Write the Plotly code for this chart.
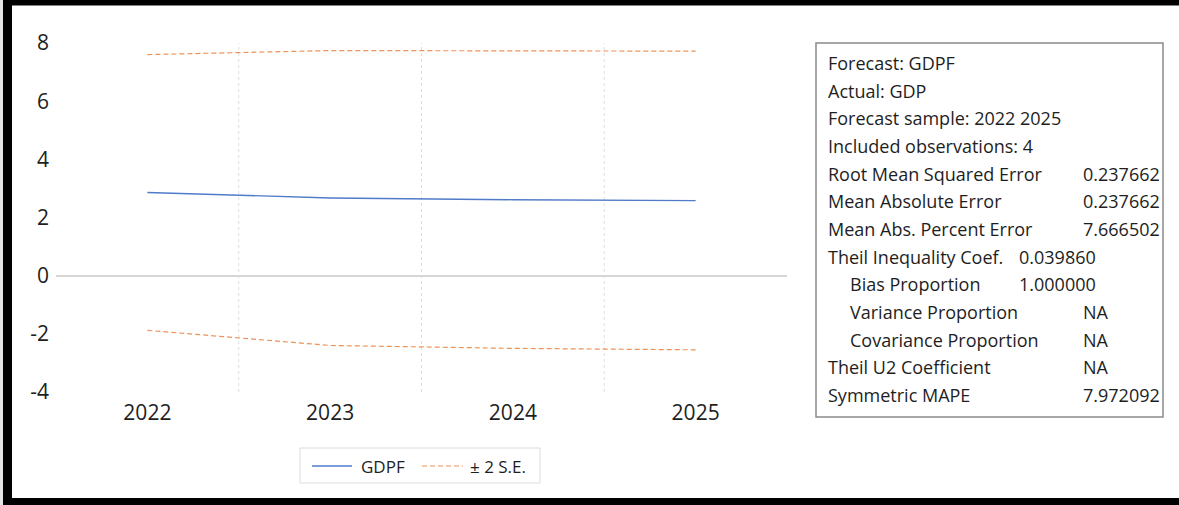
import plotly.graph_objects as go

# Forecast of GDP with a +/- 2 standard-error band
years = ["2022", "2023", "2024", "2025"]
gdpf = [2.86, 2.67, 2.61, 2.58]
upper_2se = [7.60, 7.74, 7.73, 7.72]
lower_2se = [-1.88, -2.40, -2.50, -2.55]
y_ticks = [-4, -2, 0, 2, 4, 6, 8]
series_names = ["GDPF", "± 2 S.E."]

# Forecast evaluation statistics
stat_labels = [
    "Forecast: GDPF",
    "Actual: GDP",
    "Forecast sample: 2022 2025",
    "Included observations: 4",
    "Root Mean Squared Error",
    "Mean Absolute Error",
    "Mean Abs. Percent Error",
    "Theil Inequality Coef.",
    "Bias Proportion",
    "Variance Proportion",
    "Covariance Proportion",
    "Theil U2 Coefficient",
    "Symmetric MAPE",
]
stat_values = [
    "", "", "", "",
    "0.237662",
    "0.237662",
    "7.666502",
    "0.039860",
    "1.000000",
    "NA",
    "NA",
    "NA",
    "7.972092",
]
theil_parts = {"Bias Proportion", "Variance Proportion", "Covariance Proportion"}
theil_block = {"Theil Inequality Coef.", "Bias Proportion"}

W, H = 1179, 505
FONT = "Open Sans, Noto Sans, sans-serif"
TEXT = "#1e1e1e"
BLUE = "#4f7bc9"
ORANGE = "#ef9257"
DASH = "5px,3px"


def fx(px):
    return px / W


def fy(py):
    return 1 - py / H


fig = go.Figure()
fig.add_trace(go.Scatter(
    x=years, y=gdpf, name=series_names[0], mode="lines",
    line=dict(color=BLUE, width=1.3),
))
fig.add_trace(go.Scatter(
    x=years, y=upper_2se, name=series_names[1], mode="lines",
    line=dict(color=ORANGE, width=1.2, dash=DASH),
))
fig.add_trace(go.Scatter(
    x=years, y=lower_2se, name=series_names[1], mode="lines",
    line=dict(color=ORANGE, width=1.2, dash=DASH),
))

shapes = []
# dotted vertical grid lines between the years
for b in range(len(years) - 1):
    shapes.append(dict(
        type="line", xref="x", yref="y", x0=b + 0.5, x1=b + 0.5,
        y0=y_ticks[0], y1=y_ticks[-1], layer="below",
        line=dict(color="#dedede", width=1, dash="dot"),
    ))
# statistics panel frame
shapes.append(dict(
    type="rect", xref="paper", yref="paper",
    x0=fx(816), x1=fx(1163), y0=fy(417), y1=fy(43),
    line=dict(color="#8a8a8a", width=1.5), fillcolor="rgba(0,0,0,0)",
))
# legend box with its two keys
shapes += [
    dict(type="rect", xref="paper", yref="paper",
         x0=fx(300), x1=fx(540), y0=fy(483), y1=fy(448),
         line=dict(color="#dcdcdc", width=1), fillcolor="white"),
    dict(type="line", xref="paper", yref="paper",
         x0=fx(312), x1=fx(352), y0=fy(466), y1=fy(466),
         line=dict(color=BLUE, width=1.3)),
    dict(type="line", xref="paper", yref="paper",
         x0=fx(422), x1=fx(463), y0=fy(466), y1=fy(466),
         line=dict(color=ORANGE, width=1.2, dash=DASH)),
]
# outer frame
shapes += [
    dict(type="rect", xref="paper", yref="paper", x0=0, x1=fx(3), y0=0, y1=1,
         line=dict(width=0), fillcolor="#e4e4e4"),
    dict(type="rect", xref="paper", yref="paper", x0=fx(3), x1=fx(12), y0=fy(505), y1=fy(0),
         line=dict(width=0), fillcolor="#000000"),
    dict(type="rect", xref="paper", yref="paper", x0=fx(3), x1=1, y0=fy(5.5), y1=fy(0),
         line=dict(width=0), fillcolor="#000000"),
    dict(type="rect", xref="paper", yref="paper", x0=fx(3), x1=1, y0=fy(505), y1=fy(498),
         line=dict(width=0), fillcolor="#000000"),
]

annotations = []
# legend labels
for name, lx in zip(series_names, [359, 468]):
    annotations.append(dict(
        xref="paper", yref="paper", x=fx(lx), y=fy(466), xanchor="left", yanchor="middle",
        text=name, showarrow=False, font=dict(family=FONT, size=17, color=TEXT),
    ))

# statistics table
row0, row_step = 63.0, 27.67
for i, (lab, val) in enumerate(zip(stat_labels, stat_values)):
    yc = fy(row0 + i * row_step)
    x_lab = 848 if lab in theil_parts else 826
    annotations.append(dict(
        xref="paper", yref="paper", x=fx(x_lab), y=yc, xanchor="left", yanchor="middle",
        text=lab, showarrow=False, font=dict(family=FONT, size=18, color=TEXT),
    ))
    if not val:
        continue
    if lab in theil_block:
        ax, xa = 1098, "right"
    elif val == "NA":
        ax, xa = 1081, "left"
    else:
        ax, xa = 1162, "right"
    annotations.append(dict(
        xref="paper", yref="paper", x=fx(ax), y=yc, xanchor=xa, yanchor="middle",
        text=val, showarrow=False, font=dict(family=FONT, size=18, color=TEXT),
    ))

fig.update_layout(
    width=W, height=H, autosize=False,
    margin=dict(l=0, r=0, t=0, b=0, autoexpand=False),
    paper_bgcolor="white", plot_bgcolor="white",
    font=dict(family=FONT, color=TEXT),
    showlegend=False,
    xaxis=dict(
        type="category", categoryorder="array", categoryarray=years,
        range=[-0.5, len(years) - 0.5], domain=[fx(56), fx(787)],
        showgrid=False, zeroline=False, showline=False, ticks="", automargin=False,
        tickfont=dict(family=FONT, size=21, color=TEXT), ticklabelstandoff=6,
    ),
    yaxis=dict(
        range=[y_ticks[0], y_ticks[-1]], tickvals=y_ticks,
        ticktext=[str(v) for v in y_ticks],
        domain=[fy(392), fy(43)], automargin=False,
        showgrid=False, zeroline=True, zerolinecolor="#d6d6d6", zerolinewidth=1.5,
        showline=False, ticks="",
        tickfont=dict(family=FONT, size=21, color=TEXT), ticklabelstandoff=6,
    ),
    shapes=shapes,
    annotations=annotations,
)

fig.write_html("out.html")
